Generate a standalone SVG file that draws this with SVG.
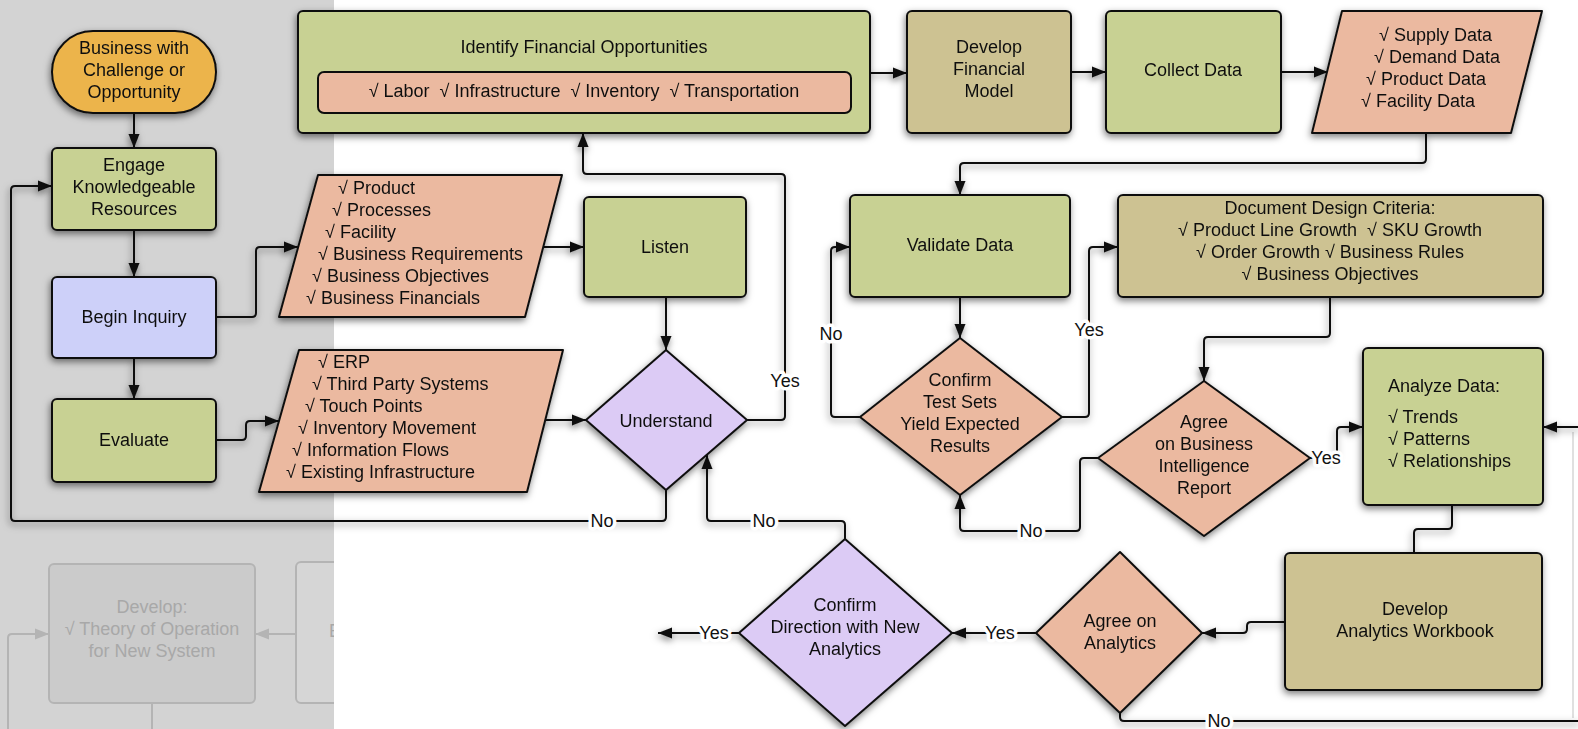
<svg xmlns="http://www.w3.org/2000/svg" width="1578" height="729" viewBox="0 0 1578 729">
  <defs>
    <style>
      text { font-family: "Liberation Sans", Arial, sans-serif; font-size: 18px; fill: #111; }
      .c { text-anchor: middle; }
      .pre { white-space: pre; }
      .node { stroke: #111; stroke-width: 2; stroke-linejoin: round; }
      .green { fill: #c8d193; }
      .tan { fill: #cdc292; }
      .salmon { fill: #ebb9a0; }
      .purple { fill: #dccbf5; }
      .blue { fill: #cdd0f9; }
      .orange { fill: #ecb44c; }
      .wire { fill: none; stroke: #111; stroke-width: 2; stroke-linejoin: round; }
      .lbl { stroke: #fff; stroke-width: 7; paint-order: stroke; stroke-linejoin: round; text-anchor: middle; }
      .faded-box { fill: #cbcbcb; stroke: #b4b4b4; stroke-width: 2; }
      .faded-wire { fill: none; stroke: #b4b4b4; stroke-width: 2; }
      .faded-text { fill: #a8a8a8; text-anchor: middle; }
    </style>
    <filter id="sh" x="-20%" y="-20%" width="140%" height="150%">
      <feDropShadow dx="-1" dy="3" stdDeviation="3.5" flood-color="#000" flood-opacity="0.5"/>
    </filter>
    <marker id="arr" markerWidth="15" markerHeight="12" refX="14" refY="6" orient="auto" markerUnits="userSpaceOnUse">
      <path d="M0,0.5 L14,6 L0,11.5 Z" fill="#111"/>
    </marker>
    <marker id="arrFaded" markerWidth="15" markerHeight="12" refX="14" refY="6" orient="auto" markerUnits="userSpaceOnUse">
      <path d="M0,0.5 L14,6 L0,11.5 Z" fill="#b4b4b4"/>
    </marker>
    <clipPath id="leftPane">
      <rect x="0" y="0" width="334" height="729"/>
    </clipPath>
  </defs>

  <!-- page background -->
  <rect x="0" y="0" width="1578" height="729" fill="#ffffff"/>
  <rect x="0" y="0" width="334" height="729" fill="#d3d3d3"/>

  <!-- dimmed part of the flow (lower left) -->
  <g id="dimmed" clip-path="url(#leftPane)">
    <path class="faded-wire" d="M8 729 V638 Q8 634 12 634 H49" marker-end="url(#arrFaded)"/>
    <path class="faded-wire" d="M296 634 H255" marker-end="url(#arrFaded)"/>
    <path class="faded-wire" d="M152 703 V729"/>
    <g id="develop-theory">
      <rect class="faded-box" x="49" y="564" width="206" height="139" rx="5"/>
      <text class="faded-text" x="152" y="613">Develop:</text>
      <text class="faded-text" x="152" y="635">√ Theory of Operation</text>
      <text class="faded-text" x="152" y="657">for New System</text>
    </g>
    <g id="dimmed-next">
      <rect x="296" y="562" width="80" height="141" rx="5" fill="#d6d6d6" stroke="#b4b4b4" stroke-width="2"/>
      <text x="329" y="637" style="fill:#a8a8a8">E</text>
    </g>
  </g>

  <!-- thin page edge on the right -->
  <path d="M1573 432 V718" fill="none" stroke="#d6d6d6" stroke-width="1.5"/>

  <!-- connectors -->
  <g id="connectors" filter="url(#sh)">
    <path class="wire" d="M134 113 V148" marker-end="url(#arr)"/>
    <path class="wire" d="M134 230 V277" marker-end="url(#arr)"/>
    <path class="wire" d="M134 358 V399" marker-end="url(#arr)"/>
    <path class="wire" d="M216 317 H252 Q256 317 256 313 V251 Q256 247 260 247 H298" marker-end="url(#arr)"/>
    <path class="wire" d="M216 440 H242 Q246 440 246 436 V425 Q246 421 250 421 H279" marker-end="url(#arr)"/>
    <path class="wire" d="M544 247 H584" marker-end="url(#arr)"/>
    <path class="wire" d="M545 420 H586" marker-end="url(#arr)"/>
    <path class="wire" d="M666 297 V350" marker-end="url(#arr)"/>
    <path class="wire" d="M747 420 H781 Q785 420 785 416 V178 Q785 174 781 174 H587 Q583 174 583 170 V133" marker-end="url(#arr)"/>
    <path class="wire" d="M666 490 V517 Q666 521 662 521 H15 Q11 521 11 517 V190 Q11 186 15 186 H52" marker-end="url(#arr)"/>
    <path class="wire" d="M845 539 V525 Q845 521 841 521 H711 Q707 521 707 517 V455" marker-end="url(#arr)"/>
    <path class="wire" d="M870 73 H907" marker-end="url(#arr)"/>
    <path class="wire" d="M1071 72 H1106" marker-end="url(#arr)"/>
    <path class="wire" d="M1281 72 H1328" marker-end="url(#arr)"/>
    <path class="wire" d="M1426 133 V159 Q1426 163 1422 163 H964 Q960 163 960 167 V195" marker-end="url(#arr)"/>
    <path class="wire" d="M960 297 V338" marker-end="url(#arr)"/>
    <path class="wire" d="M860 417 H835 Q831 417 831 413 V251 Q831 247 835 247 H850" marker-end="url(#arr)"/>
    <path class="wire" d="M1062 417 H1085 Q1089 417 1089 413 V251 Q1089 247 1093 247 H1118" marker-end="url(#arr)"/>
    <path class="wire" d="M1330 297 V333 Q1330 337 1326 337 H1208 Q1204 337 1204 341 V381" marker-end="url(#arr)"/>
    <path class="wire" d="M1310 458 H1333 Q1337 458 1337 454 V431 Q1337 427 1341 427 H1363" marker-end="url(#arr)"/>
    <path class="wire" d="M1098 458 H1084 Q1080 458 1080 462 V527 Q1080 531 1076 531 H964 Q960 531 960 527 V495" marker-end="url(#arr)"/>
    <path class="wire" d="M1580 427 H1543" marker-end="url(#arr)"/>
    <path class="wire" d="M1452 505 V525 Q1452 529 1448 529 H1418 Q1414 529 1414 533 V553"/>
    <path class="wire" d="M1285 622 H1251 Q1247 622 1247 626 V629 Q1247 633 1243 633 H1202" marker-end="url(#arr)"/>
    <path class="wire" d="M1036 633 H952" marker-end="url(#arr)"/>
    <path class="wire" d="M739 633 H658" marker-end="url(#arr)"/>
    <path class="wire" d="M1120 713 V717 Q1120 721 1124 721 H1580"/>
  </g>

  <!-- connector labels -->
  <g id="connector-labels">
    <text class="lbl" x="785" y="387">Yes</text>
    <text class="lbl" x="602" y="527">No</text>
    <text class="lbl" x="764" y="527">No</text>
    <text class="lbl" x="831" y="340">No</text>
    <text class="lbl" x="1089" y="336">Yes</text>
    <text class="lbl" x="1326" y="464">Yes</text>
    <text class="lbl" x="1031" y="537">No</text>
    <text class="lbl" x="1000" y="639">Yes</text>
    <text class="lbl" x="714" y="639">Yes</text>
    <text class="lbl" x="1219" y="727">No</text>
  </g>

  <!-- nodes -->
  <g id="nodes" filter="url(#sh)">
    <g id="business">
      <rect class="node orange" x="52" y="31" width="164" height="82" rx="41"/>
      <text class="c" x="134" y="54">Business with</text>
      <text class="c" x="134" y="76">Challenge or</text>
      <text class="c" x="134" y="98">Opportunity</text>
    </g>
    <g id="engage">
      <rect class="node green" x="52" y="148" width="164" height="82" rx="5"/>
      <text class="c" x="134" y="171">Engage</text>
      <text class="c" x="134" y="193">Knowledgeable</text>
      <text class="c" x="134" y="215">Resources</text>
    </g>
    <g id="begin-inquiry">
      <rect class="node blue" x="52" y="277" width="164" height="81" rx="5"/>
      <text class="c" x="134" y="323">Begin Inquiry</text>
    </g>
    <g id="evaluate">
      <rect class="node green" x="52" y="399" width="164" height="83" rx="5"/>
      <text class="c" x="134" y="446">Evaluate</text>
    </g>
    <g id="business-inputs">
      <path class="node salmon" d="M318 175 H562 L525 317 H279 Z"/>
      <text x="338" y="194">√ Product</text>
      <text x="332" y="216">√ Processes</text>
      <text x="325" y="238">√ Facility</text>
      <text x="318" y="260">√ Business Requirements</text>
      <text x="312" y="282">√ Business Objectives</text>
      <text x="306" y="304">√ Business Financials</text>
    </g>
    <g id="system-inputs">
      <path class="node salmon" d="M299 350 H563 L527 492 H259 Z"/>
      <text x="318" y="368">√ ERP</text>
      <text x="312" y="390">√ Third Party Systems</text>
      <text x="305" y="412">√ Touch Points</text>
      <text x="298" y="434">√ Inventory Movement</text>
      <text x="292" y="456">√ Information Flows</text>
      <text x="286" y="478">√ Existing Infrastructure</text>
    </g>
    <g id="listen">
      <rect class="node green" x="584" y="197" width="162" height="100" rx="5"/>
      <text class="c" x="665" y="253">Listen</text>
    </g>
    <g id="understand">
      <path class="node purple" d="M666 350 L747 420 L666 490 L586 420 Z"/>
      <text class="c" x="666" y="427">Understand</text>
    </g>
    <g id="identify">
      <rect class="node green" x="298" y="11" width="572" height="122" rx="5"/>
      <text class="c" x="584" y="53">Identify Financial Opportunities</text>
      <rect class="node salmon" x="318" y="72" width="533" height="41" rx="6"/>
      <text class="c pre" x="584" y="97">√ Labor  √ Infrastructure  √ Inventory  √ Transportation</text>
    </g>
    <g id="develop-financial">
      <rect class="node tan" x="907" y="11" width="164" height="122" rx="5"/>
      <text class="c" x="989" y="53">Develop</text>
      <text class="c" x="989" y="75">Financial</text>
      <text class="c" x="989" y="97">Model</text>
    </g>
    <g id="collect">
      <rect class="node green" x="1106" y="11" width="175" height="122" rx="5"/>
      <text class="c" x="1193" y="76">Collect Data</text>
    </g>
    <g id="data-sets">
      <path class="node salmon" d="M1342 11 H1542 L1511 133 H1312 Z"/>
      <text x="1379" y="41">√ Supply Data</text>
      <text x="1374" y="63">√ Demand Data</text>
      <text x="1366" y="85">√ Product Data</text>
      <text x="1361" y="107">√ Facility Data</text>
    </g>
    <g id="validate">
      <rect class="node green" x="850" y="195" width="220" height="102" rx="5"/>
      <text class="c" x="960" y="251">Validate Data</text>
    </g>
    <g id="design-criteria">
      <rect class="node tan" x="1118" y="195" width="425" height="102" rx="5"/>
      <text class="c" x="1330" y="214">Document Design Criteria:</text>
      <text class="c pre" x="1330" y="236">√ Product Line Growth  √ SKU Growth</text>
      <text class="c" x="1330" y="258">√ Order Growth √ Business Rules</text>
      <text class="c" x="1330" y="280">√ Business Objectives</text>
    </g>
    <g id="confirm-test-sets">
      <path class="node salmon" d="M960 338 L1062 417 L960 495 L860 417 Z"/>
      <text class="c" x="960" y="386">Confirm</text>
      <text class="c" x="960" y="408">Test Sets</text>
      <text class="c" x="960" y="430">Yield Expected</text>
      <text class="c" x="960" y="452">Results</text>
    </g>
    <g id="agree-bi">
      <path class="node salmon" d="M1204 381 L1310 458 L1204 536 L1098 458 Z"/>
      <text class="c" x="1204" y="428">Agree</text>
      <text class="c" x="1204" y="450">on Business</text>
      <text class="c" x="1204" y="472">Intelligence</text>
      <text class="c" x="1204" y="494">Report</text>
    </g>
    <g id="analyze">
      <rect class="node green" x="1363" y="348" width="180" height="157" rx="5"/>
      <text x="1388" y="392">Analyze Data:</text>
      <text x="1388" y="423">√ Trends</text>
      <text x="1388" y="445">√ Patterns</text>
      <text x="1388" y="467">√ Relationships</text>
    </g>
    <g id="analytics-workbook">
      <rect class="node tan" x="1285" y="553" width="257" height="137" rx="5"/>
      <text class="c" x="1415" y="615">Develop</text>
      <text class="c" x="1415" y="637">Analytics Workbook</text>
    </g>
    <g id="agree-analytics">
      <path class="node salmon" d="M1120 552 L1202 633 L1120 713 L1036 633 Z"/>
      <text class="c" x="1120" y="627">Agree on</text>
      <text class="c" x="1120" y="649">Analytics</text>
    </g>
    <g id="confirm-direction">
      <path class="node purple" d="M845 539 L952 633 L845 726 L739 633 Z"/>
      <text class="c" x="845" y="611">Confirm</text>
      <text class="c" x="845" y="633">Direction with New</text>
      <text class="c" x="845" y="655">Analytics</text>
    </g>
  </g>
</svg>
